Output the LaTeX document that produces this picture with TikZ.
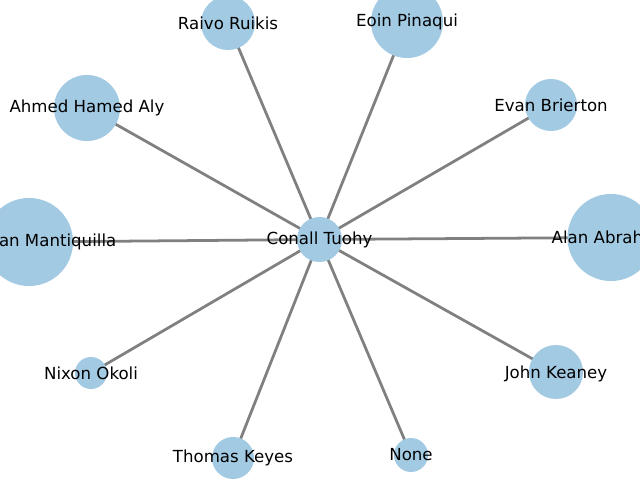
\documentclass[tikz,border=0pt]{standalone}
\usepackage{fontspec}
\setmainfont{DejaVu Sans}
\usetikzlibrary{backgrounds}
\definecolor{nodeblue}{RGB}{162,202,227}
\tikzset{
  person/.style={circle, fill=nodeblue, inner sep=0pt, minimum size=#1*0.02in},
  link/.style={draw=gray, line width=2pt},
  personlabel/.style={font=\fontsize{12}{14}\selectfont, inner sep=0pt}
}
\begin{document}
\begin{tikzpicture}[x=0.01in, y=-0.01in]
				\useasboundingbox (0, 0) rectangle (640, 480);
				\clip (0, 0) rectangle (640, 480);
				\node[person=22.5] (conall) at (319.5, 239.5) {};
				\node[person=27] (raivo) at (228, 23) {};
				\node[person=36] (eoin) at (407, 22) {};
				\node[person=33] (ahmed) at (87, 108) {};
				\node[person=26] (evan) at (551, 105) {};
				\node[person=44] (mantiquilla) at (29, 242) {};
				\node[person=43.5] (alan) at (611, 237.5) {};
				\node[person=16] (nixon) at (91, 373) {};
				\node[person=27] (john) at (556, 372) {};
				\node[person=21] (thomas) at (233, 458) {};
				\node[person=17] (none) at (411, 455) {};
				\begin{scope}[on background layer]
					\foreach \p in {raivo, eoin, ahmed, evan, mantiquilla, alan, nixon, john, thomas, none}
						\draw[link] (conall.center) -- (\p.center);
				\end{scope}
				\node[personlabel] at (conall) {Conall Tuohy};
				\node[personlabel] at (raivo) {Raivo Ruikis};
				\node[personlabel] at (eoin) {Eoin Pinaqui};
				\node[personlabel] at (ahmed) {Ahmed Hamed Aly};
				\node[personlabel] at (evan) {Evan Brierton};
				\node[personlabel, anchor=east] at ([xshift=0.875in] mantiquilla.center) {Sebastian Mantiquilla};
				\node[personlabel, anchor=west] at ([xshift=-0.595in] alan.center) {Alan Abrahams};
				\node[personlabel] at (nixon) {Nixon Okoli};
				\node[personlabel] at ([yshift=-0.015in] john.center) {John Keaney};
				\node[personlabel] at (thomas) {Thomas Keyes};
				\node[personlabel] at (none) {None};
			\end{tikzpicture}
\end{document}
